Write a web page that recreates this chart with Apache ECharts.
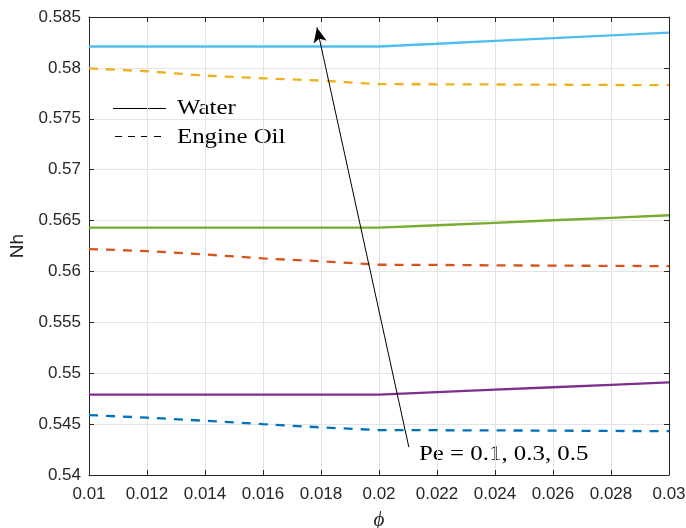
<!DOCTYPE html>
<html><head><meta charset="utf-8">
<script src="https://cdn.jsdelivr.net/npm/echarts@6/dist/echarts.min.js"></script>
<style>html,body{margin:0;padding:0;background:#fff}#c{width:686px;height:528px}</style>
</head><body><div id="c"></div>
<script>
const phi = [0.01, 0.012, 0.014, 0.016, 0.018, 0.02, 0.022, 0.024, 0.026, 0.028, 0.03];
const waterPe01 = [0.5479, 0.5479, 0.5479, 0.5479, 0.5479, 0.5479, 0.54814, 0.54838, 0.54862, 0.54886, 0.5491];
const waterPe03 = [0.5643, 0.5643, 0.5643, 0.5643, 0.5643, 0.5643, 0.56454, 0.56478, 0.56503, 0.56527, 0.56552];
const waterPe05 = [0.5821, 0.5821, 0.5821, 0.5821, 0.5821, 0.5821, 0.58237, 0.58265, 0.58292, 0.5832, 0.58347];
const oilPe01 = [0.54589, 0.54563, 0.54533, 0.5450, 0.54468, 0.54441, 0.5444, 0.54438, 0.54436, 0.54433, 0.54431];
const oilPe03 = [0.5622, 0.5620, 0.56167, 0.56128, 0.5610, 0.56066, 0.56064, 0.5606, 0.56057, 0.56055, 0.56052];
const oilPe05 = [0.57995, 0.57967, 0.57924, 0.57898, 0.57875, 0.5784, 0.57839, 0.57837, 0.57835, 0.57832, 0.5783];
const xTicks = ['0.01','0.012','0.014','0.016','0.018','0.02','0.022','0.024','0.026','0.028','0.03'];
const yTicks = ['0.54','0.545','0.55','0.555','0.56','0.565','0.57','0.575','0.58','0.585'];
const arrowFrom = [0.02103, 0.54273];
const arrowTo = [0.01786, 0.58397];
const annotation = 'Pe = 0.1, 0.3, 0.5';

const pair = ys => phi.map((x, i) => [x, ys[i]]);
const fmtX = v => { const i = Math.round((v - 0.01) / 0.002); return xTicks[i] !== undefined ? xTicks[i] : ''; };
const fmtY = v => { const i = Math.round((v - 0.54) / 0.005); return yTicks[i] !== undefined ? yTicks[i] : ''; };

const axisColor = '#262626';
const sans = 'Liberation Sans, Arial, sans-serif';
const serif = 'Liberation Serif, Times New Roman, serif';
const gridLine = {show: true, lineStyle: {color: '#e3e3e3', width: 1}};

const chart = echarts.init(document.getElementById('c'), null, {renderer: 'canvas'});
const mk = (name, data, color, dashed) => ({
  name, type: 'line', data: pair(data), xAxisIndex: 0, yAxisIndex: 0,
  symbol: 'none', smooth: false, silent: true, animation: false,
  lineStyle: {color, width: 2.3, type: dashed ? [9, 8] : 'solid'}
});
chart.setOption({
  animation: false,
  backgroundColor: '#fff',
  grid: {left: 89, right: 17, top: 17, bottom: 53, containLabel: false, outerBoundsMode: 'none'},
  xAxis: [{
    type: 'value', min: 0.01, max: 0.03, interval: 0.002, position: 'bottom',
    name: 'ϕ', nameLocation: 'middle', nameGap: 35,
    nameTextStyle: {fontFamily: serif, fontStyle: 'italic', fontSize: 21, color: axisColor},
    axisLine: {show: true, onZero: false, lineStyle: {color: axisColor, width: 1}},
    axisTick: {show: true, inside: true, length: 5, lineStyle: {color: axisColor}},
    axisLabel: {formatter: fmtX, fontFamily: sans, fontSize: 17, color: axisColor, margin: 11},
    splitLine: gridLine
  }, {
    type: 'value', min: 0.01, max: 0.03, interval: 0.002, position: 'top',
    axisLine: {show: true, onZero: false, lineStyle: {color: axisColor, width: 1}},
    axisTick: {show: true, inside: true, length: 5, lineStyle: {color: axisColor}},
    axisLabel: {show: false}, splitLine: {show: false}
  }],
  yAxis: [{
    type: 'value', min: 0.54, max: 0.585, interval: 0.005, position: 'left',
    name: 'Nh', nameLocation: 'middle', nameGap: 62, nameRotate: 90,
    nameTextStyle: {fontFamily: sans, fontSize: 19, color: axisColor},
    axisLine: {show: true, onZero: false, lineStyle: {color: axisColor, width: 1}},
    axisTick: {show: true, inside: true, length: 5, lineStyle: {color: axisColor}},
    axisLabel: {formatter: fmtY, fontFamily: sans, fontSize: 17, color: axisColor, margin: 8},
    splitLine: gridLine
  }, {
    type: 'value', min: 0.54, max: 0.585, interval: 0.005, position: 'right',
    axisLine: {show: true, onZero: false, lineStyle: {color: axisColor, width: 1}},
    axisTick: {show: true, inside: true, length: 5, lineStyle: {color: axisColor}},
    axisLabel: {show: false}, splitLine: {show: false}
  }],
  series: [
    mk('Water Pe=0.1', waterPe01, '#7E2F8E', false),
    mk('Water Pe=0.3', waterPe03, '#77AC30', false),
    mk('Water Pe=0.5', waterPe05, '#4DBEEE', false),
    mk('Engine Oil Pe=0.1', oilPe01, '#0072BD', true),
    mk('Engine Oil Pe=0.3', oilPe03, '#D95319', true),
    mk('Engine Oil Pe=0.5', oilPe05, '#EDB120', true),
    {
      name: 'arrow', type: 'line', data: [], silent: true,
      markLine: {
        silent: true, animation: false, symbol: ['none', 'arrow'], symbolSize: [10, 15],
        label: {show: false},
        lineStyle: {color: '#000', width: 1, type: 'solid'},
        data: [[{coord: arrowFrom}, {coord: arrowTo}]]
      }
    }
  ],
  graphic: [
    {type: 'line', shape: {x1: 113, y1: 108.5, x2: 166, y2: 108.5}, style: {stroke: '#000', lineWidth: 1}},
    {type: 'line', shape: {x1: 115, y1: 136.5, x2: 167, y2: 136.5}, style: {stroke: '#000', lineWidth: 1, lineDash: [7, 6]}},
    {type: 'text', x: 177, y: 108, scaleX: 1.13, style: {text: 'Water', fontFamily: serif, fontSize: 22, fill: '#000', verticalAlign: 'middle'}},
    {type: 'text', x: 177, y: 137, scaleX: 1.13, style: {text: 'Engine Oil', fontFamily: serif, fontSize: 22, fill: '#000', verticalAlign: 'middle'}},
    {type: 'text', x: 419, y: 454, scaleX: 1.13, style: {text: annotation, fontFamily: serif, fontSize: 22, fill: '#000', verticalAlign: 'middle'}}
  ]
});
</script></body></html>
